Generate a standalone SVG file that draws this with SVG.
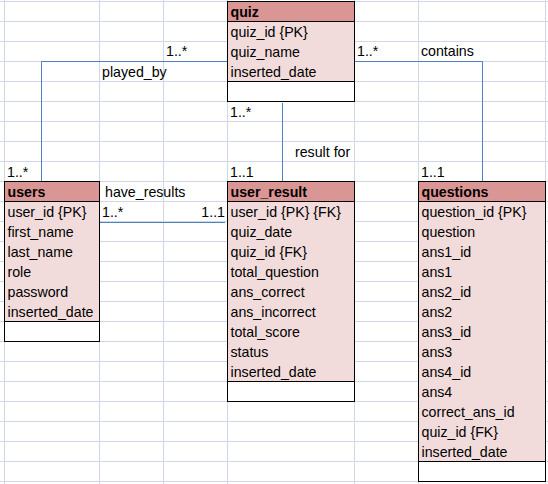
<svg xmlns="http://www.w3.org/2000/svg" width="548" height="484" viewBox="0 0 548 484">
<style>
.grid line{stroke:#d0d7e5;stroke-width:1}
.hdr{fill:#da9694}
.body{fill:#f2dcdb}
.blank{fill:#ffffff}
.frame{fill:none;stroke:#000;stroke-width:1}
.sep{stroke:#000;stroke-width:1}
text{font-family:"Liberation Sans",Arial,sans-serif;font-size:14.2px;fill:#000}
.b{font-weight:bold}
.conn line,.conn polyline{stroke:#4f81bd;stroke-width:1;fill:none}
</style>
<rect x="0" y="0" width="548" height="484" fill="#fff"/>
<g class="grid">
<line x1="0" y1="1.5" x2="548" y2="1.5"/>
<line x1="0" y1="21.5" x2="548" y2="21.5"/>
<line x1="0" y1="41.5" x2="548" y2="41.5"/>
<line x1="0" y1="61.5" x2="548" y2="61.5"/>
<line x1="0" y1="81.5" x2="548" y2="81.5"/>
<line x1="0" y1="101.5" x2="548" y2="101.5"/>
<line x1="0" y1="121.5" x2="548" y2="121.5"/>
<line x1="0" y1="141.5" x2="548" y2="141.5"/>
<line x1="0" y1="161.5" x2="548" y2="161.5"/>
<line x1="0" y1="181.5" x2="548" y2="181.5"/>
<line x1="0" y1="201.5" x2="548" y2="201.5"/>
<line x1="0" y1="221.5" x2="548" y2="221.5"/>
<line x1="0" y1="241.5" x2="548" y2="241.5"/>
<line x1="0" y1="261.5" x2="548" y2="261.5"/>
<line x1="0" y1="281.5" x2="548" y2="281.5"/>
<line x1="0" y1="301.5" x2="548" y2="301.5"/>
<line x1="0" y1="321.5" x2="548" y2="321.5"/>
<line x1="0" y1="341.5" x2="548" y2="341.5"/>
<line x1="0" y1="361.5" x2="548" y2="361.5"/>
<line x1="0" y1="381.5" x2="548" y2="381.5"/>
<line x1="0" y1="401.5" x2="548" y2="401.5"/>
<line x1="0" y1="421.5" x2="548" y2="421.5"/>
<line x1="0" y1="441.5" x2="548" y2="441.5"/>
<line x1="0" y1="461.5" x2="548" y2="461.5"/>
<line x1="0" y1="481.5" x2="548" y2="481.5"/>
<line x1="4.5" y1="0" x2="4.5" y2="484"/>
<line x1="99.5" y1="0" x2="99.5" y2="484"/>
<line x1="163.5" y1="0" x2="163.5" y2="484"/>
<line x1="227.5" y1="0" x2="227.5" y2="484"/>
<line x1="354.5" y1="0" x2="354.5" y2="484"/>
<line x1="418.5" y1="0" x2="418.5" y2="484"/>
<line x1="545.5" y1="0" x2="545.5" y2="484"/>
</g>
<g class="conn">
<polyline points="227.5,61.5 41.5,61.5 41.5,181.5"/>
<polyline points="354.5,61.5 482.5,61.5 482.5,181.5"/>
<line x1="282.5" y1="103" x2="282.5" y2="181.5"/>
<line x1="100" y1="222.5" x2="225" y2="222.5"/>
</g>
<g id="labels">
<text x="166" y="56">1..*</text>
<text x="102" y="77">played_by</text>
<text x="7" y="177">1..*</text>
<text x="230" y="117">1..*</text>
<text x="295" y="157">result for</text>
<text x="230" y="177">1..1</text>
<text x="357" y="56">1..*</text>
<text x="421" y="56">contains</text>
<text x="421" y="177">1..1</text>
<text x="105" y="197">have_results</text>
<text x="102" y="217">1..*</text>
<text x="225" y="217" text-anchor="end">1..1</text>
</g>
<g id="quiz">
<rect class="hdr" x="227.5" y="1.5" width="127" height="20"/>
<rect class="body" x="227.5" y="21.5" width="127" height="60"/>
<rect class="blank" x="227.5" y="81.5" width="127" height="20"/>
<line class="sep" x1="227.5" y1="21.5" x2="354.5" y2="21.5"/>
<line class="sep" x1="227.5" y1="81.5" x2="354.5" y2="81.5"/>
<rect class="frame" x="227.5" y="1.5" width="127" height="100"/>
<text class="b" x="230.5" y="17">quiz</text>
<text x="230.5" y="37">quiz_id {PK}</text>
<text x="230.5" y="57">quiz_name</text>
<text x="230.5" y="77">inserted_date</text>
</g>
<g id="users">
<rect class="hdr" x="4.5" y="181.5" width="95" height="20"/>
<rect class="body" x="4.5" y="201.5" width="95" height="120"/>
<rect class="blank" x="4.5" y="321.5" width="95" height="20"/>
<line class="sep" x1="4.5" y1="201.5" x2="99.5" y2="201.5"/>
<line class="sep" x1="4.5" y1="321.5" x2="99.5" y2="321.5"/>
<rect class="frame" x="4.5" y="181.5" width="95" height="160"/>
<text class="b" x="7.5" y="197">users</text>
<text x="7.5" y="217">user_id {PK}</text>
<text x="7.5" y="237">first_name</text>
<text x="7.5" y="257">last_name</text>
<text x="7.5" y="277">role</text>
<text x="7.5" y="297">password</text>
<text x="7.5" y="317">inserted_date</text>
</g>
<g id="user_result">
<rect class="hdr" x="227.5" y="181.5" width="127" height="20"/>
<rect class="body" x="227.5" y="201.5" width="127" height="180"/>
<rect class="blank" x="227.5" y="381.5" width="127" height="20"/>
<line class="sep" x1="227.5" y1="201.5" x2="354.5" y2="201.5"/>
<line class="sep" x1="227.5" y1="381.5" x2="354.5" y2="381.5"/>
<rect class="frame" x="227.5" y="181.5" width="127" height="220"/>
<text class="b" x="230.5" y="197">user_result</text>
<text x="230.5" y="217">user_id {PK} {FK}</text>
<text x="230.5" y="237">quiz_date</text>
<text x="230.5" y="257">quiz_id {FK}</text>
<text x="230.5" y="277">total_question</text>
<text x="230.5" y="297">ans_correct</text>
<text x="230.5" y="317">ans_incorrect</text>
<text x="230.5" y="337">total_score</text>
<text x="230.5" y="357">status</text>
<text x="230.5" y="377">inserted_date</text>
</g>
<g id="questions">
<rect class="hdr" x="418.5" y="181.5" width="127" height="20"/>
<rect class="body" x="418.5" y="201.5" width="127" height="260"/>
<rect class="blank" x="418.5" y="461.5" width="127" height="20"/>
<line class="sep" x1="418.5" y1="201.5" x2="545.5" y2="201.5"/>
<line class="sep" x1="418.5" y1="461.5" x2="545.5" y2="461.5"/>
<rect class="frame" x="418.5" y="181.5" width="127" height="300"/>
<text class="b" x="421.5" y="197">questions</text>
<text x="421.5" y="217">question_id {PK}</text>
<text x="421.5" y="237">question</text>
<text x="421.5" y="257">ans1_id</text>
<text x="421.5" y="277">ans1</text>
<text x="421.5" y="297">ans2_id</text>
<text x="421.5" y="317">ans2</text>
<text x="421.5" y="337">ans3_id</text>
<text x="421.5" y="357">ans3</text>
<text x="421.5" y="377">ans4_id</text>
<text x="421.5" y="397">ans4</text>
<text x="421.5" y="417">correct_ans_id</text>
<text x="421.5" y="437">quiz_id {FK}</text>
<text x="421.5" y="457">inserted_date</text>
</g>
</svg>
